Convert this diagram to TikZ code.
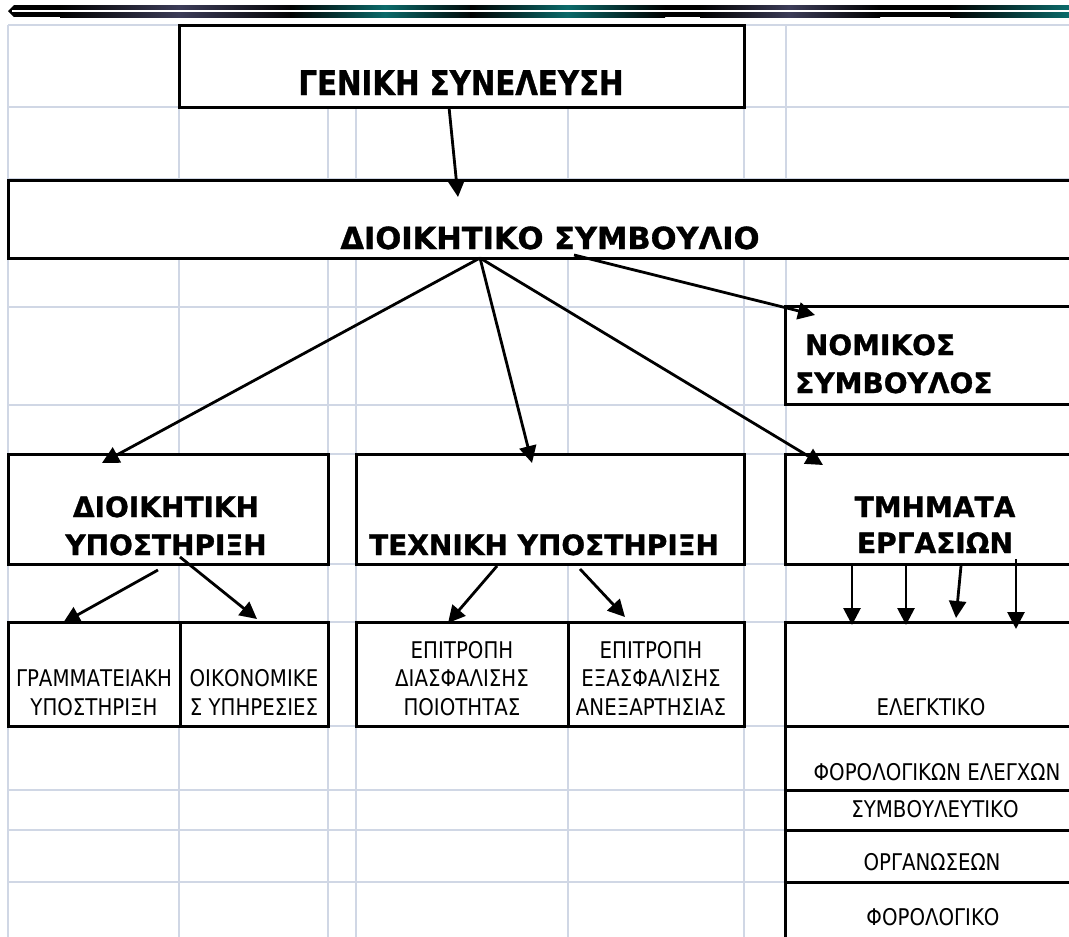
\documentclass[tikz,border=0pt]{standalone}
\usepackage{fontspec}
\setmainfont{DejaVu Sans}[FakeStretch=0.86]
\newfontfamily\boldwide{DejaVu Sans Bold}[FakeBold=1.1]
\newfontfamily\boldnarrow{DejaVu Sans Bold}[FakeStretch=0.86,FakeBold=1.1]
\usetikzlibrary{arrows.meta}
\definecolor{gridc}{HTML}{D0D7E5}
\definecolor{tealbar}{HTML}{0B6A6A}
\definecolor{slatebar}{HTML}{3C3C58}
\begin{document}
\begin{tikzpicture}[x=1pt,y=-1pt,
  cell/.style={draw=black,line width=3pt,fill=white,inner sep=0pt,outer sep=0pt,rectangle,anchor=north west},
  bigtxt/.style={font=\boldwide\fontsize{28}{38}\selectfont,inner sep=0pt,align=center,anchor=base},
  smalltxt/.style={font=\fontsize{23}{28.5}\selectfont,inner sep=0pt,align=center,anchor=base},
  arr/.style={line width=2.8pt,-{Triangle[length=17pt,width=17pt]}},
  gline/.style={draw=gridc,line width=1.5pt}]
\useasboundingbox (0,0) rectangle (1069,937);
\clip (0,0) rectangle (1069,937);
% header bar
\fill[black] (14,5) rectangle (1069,17);
\fill[black] (14,5) -- (8,11) -- (14,17) -- cycle;
\shade[left color=black,right color=black,middle color=slatebar] (60,5) rectangle (300,17);
\shade[left color=black,right color=black,middle color=tealbar] (290,5) rectangle (480,17);
\shade[left color=black,right color=black,middle color=tealbar] (470,5) rectangle (665,17);
\shade[left color=black,right color=black,middle color=slatebar] (700,5) rectangle (880,17);
\shade[left color=black,right color=tealbar] (950,5) rectangle (1069,17);
\draw[white,line width=1.3pt] (12,11) -- (1069,11);
% grid
\foreach \gx in {8,179,328,356,568,744,786} \draw[gline] (\gx,25) -- (\gx,937);
\foreach \gy in {25,107,179,258,307,405,454,564,622,726,790,830,882} \draw[gline] (8,\gy) -- (1069,\gy);
% boxes
\node[cell,minimum width=565pt,minimum height=82pt] (gs) at (179,25) {};
\node[cell,minimum width=1072pt,minimum height=78pt] (ds) at (8,180) {};
\node[cell,minimum width=295pt,minimum height=98pt] (nom) at (785,306) {};
\node[cell,minimum width=320pt,minimum height=110pt] (dy) at (8,454) {};
\node[cell,minimum width=388pt,minimum height=110pt] (ty) at (356,454) {};
\node[cell,minimum width=295pt,minimum height=110pt] (tm) at (785,454) {};
\node[cell,minimum width=172pt,minimum height=104pt] (gr) at (8,622) {};
\node[cell,minimum width=148pt,minimum height=104pt] (oik) at (180,622) {};
\node[cell,minimum width=212pt,minimum height=104pt] (ep1) at (356,622) {};
\node[cell,minimum width=176pt,minimum height=104pt] (ep2) at (568,622) {};
\node[cell,minimum width=295pt,minimum height=104pt] (el) at (785,622) {};
\node[cell,minimum width=295pt,minimum height=64pt] (fe) at (785,726) {};
\node[cell,minimum width=295pt,minimum height=40pt] (sy) at (785,790) {};
\node[cell,minimum width=295pt,minimum height=52pt] (org) at (785,830) {};
\node[cell,minimum width=295pt,minimum height=70pt] (fo) at (785,882) {};
% texts
\node[bigtxt,font=\boldnarrow\fontsize{34}{40}\selectfont] (tgs) at (461,95) {ΓΕΝΙΚΗ ΣΥΝΕΛΕΥΣΗ};
\node[bigtxt,font=\boldwide\fontsize{30.5}{38}\selectfont] (tds) at (550,249) {ΔΙΟΙΚΗΤΙΚΟ ΣΥΜΒΟΥΛΙΟ};
\node[bigtxt,align=left,anchor=base west] (tnom) at (795,393) {\ ΝΟΜΙΚΟΣ\\ΣΥΜΒΟΥΛΟΣ};
\node[bigtxt] (tdy) at (166,555) {ΔΙΟΙΚΗΤΙΚΗ\\ΥΠΟΣΤΗΡΙΞΗ};
\node[bigtxt] (tty) at (544,555) {ΤΕΧΝΙΚΗ ΥΠΟΣΤΗΡΙΞΗ};
\node[bigtxt,font=\boldwide\fontsize{28}{36}\selectfont] (ttm) at (935,553) {ΤΜΗΜΑΤΑ\\ΕΡΓΑΣΙΩΝ};
\node[smalltxt] (tgr) at (94,715) {ΓΡΑΜΜΑΤΕΙΑΚΗ\\ΥΠΟΣΤΗΡΙΞΗ};
\node[smalltxt] (toik) at (254,715) {ΟΙΚΟΝΟΜΙΚΕ\\Σ ΥΠΗΡΕΣΙΕΣ};
\node[smalltxt] (tep1) at (462,715) {ΕΠΙΤΡΟΠΗ\\ΔΙΑΣΦΑΛΙΣΗΣ\\ΠΟΙΟΤΗΤΑΣ};
\node[smalltxt] (tep2) at (651,715) {ΕΠΙΤΡΟΠΗ\\ΕΞΑΣΦΑΛΙΣΗΣ\\ΑΝΕΞΑΡΤΗΣΙΑΣ};
\node[smalltxt] (tel) at (931,715) {ΕΛΕΓΚΤΙΚΟ};
\node[smalltxt] (tfe) at (937,780) {ΦΟΡΟΛΟΓΙΚΩΝ ΕΛΕΓΧΩΝ};
\node[smalltxt] (tsy) at (935,817) {ΣΥΜΒΟΥΛΕΥΤΙΚΟ};
\node[smalltxt] (torg) at (932,870) {ΟΡΓΑΝΩΣΕΩΝ};
\node[smalltxt] (tfo) at (933,925) {ΦΟΡΟΛΟΓΙΚΟ};
% arrows
\draw[arr] ([xshift=-12.5pt]gs.south) -- ([xshift=-86pt,yshift=-17pt]ds.north);
\draw[arr] ([xshift=-64pt]ds.south) -- ([xshift=-66pt,yshift=-9pt]dy.north);
\draw[arr] ([xshift=-64pt]ds.south) -- ([xshift=-18pt,yshift=-9pt]ty.north);
\draw[arr] ([xshift=-64pt]ds.south) -- ([xshift=-109.5pt,yshift=-11pt]tm.north);
\draw[arr] ([xshift=30pt,yshift=3pt]ds.south) -- ([xshift=-117.5pt,yshift=-9pt]nom.north);
\draw[arr] ([xshift=-10pt,yshift=-6pt]dy.south) -- ([xshift=-31pt,yshift=-1pt]gr.north);
\draw[arr] ([xshift=12pt,yshift=7pt]dy.south) -- ([xshift=3pt,yshift=3pt]oik.north);
\draw[arr] ([xshift=-53pt,yshift=-2pt]ty.south) -- ([xshift=-14pt,yshift=-1pt]ep1.north);
\draw[arr] ([xshift=30pt,yshift=-5pt]ty.south) -- ([xshift=-31pt,yshift=5pt]ep2.north);
\draw[arr] ([xshift=-80.5pt,yshift=-2pt]tm.south) -- ([xshift=-80.5pt,yshift=-3pt]el.north);
\draw[arr] ([xshift=-26.5pt,yshift=-2pt]tm.south) -- ([xshift=-26.5pt,yshift=-3pt]el.north);
\draw[arr] ([xshift=28.5pt,yshift=-2pt]tm.south) -- ([xshift=23.5pt,yshift=4pt]el.north);
\draw[arr] ([xshift=83.5pt,yshift=5pt]tm.south) -- ([xshift=83.5pt,yshift=-7pt]el.north);
\end{tikzpicture}
\end{document}
